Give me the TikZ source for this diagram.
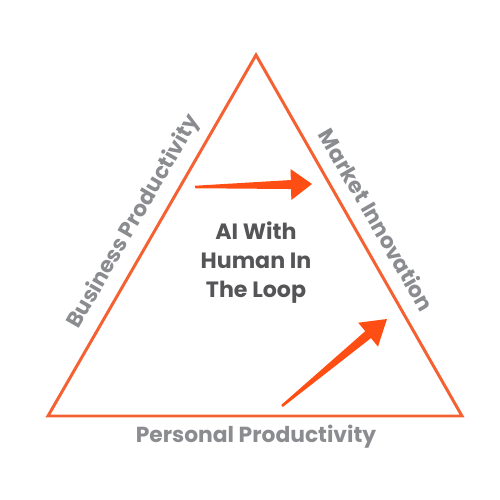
\documentclass[tikz,border=0pt]{standalone}
\usepackage{fontspec}
\setmainfont{Poppins}
\usepackage{tikz}
\usetikzlibrary{calc}
\definecolor{edgeorange}{RGB}{244,98,52}
\definecolor{arroworange}{RGB}{255,78,20}
\definecolor{labelgray}{RGB}{138,140,143}
\definecolor{textgray}{RGB}{85,85,88}

\tikzset{
  side/.style={edgeorange,line width=1.7pt,line join=miter},
  sidelabel/.style={text=labelgray,font=\fontsize{12.4}{14}\selectfont\bfseries},
  centerlabel/.style={text=textgray,align=center,font=\fontsize{12.6}{16.5}\selectfont\bfseries},
  fatarrow/.style={fill=arroworange}
}

% tapered arrow from #1 to #2
\newcommand{\taperarrow}[2]{
  \coordinate (hb) at ($(#1)!0.82!(#2)$);
  \fill[fatarrow] ($(#1)!0.025cm!-90:(#2)$) -- ($(hb)!0.09cm!-90:(#2)$)
    -- ($(hb)!0.31cm!-90:(#2)$) -- (#2) -- ($(hb)!0.31cm!90:(#2)$)
    -- ($(hb)!0.09cm!90:(#2)$) -- ($(#1)!0.025cm!90:(#2)$) -- cycle;
}

\begin{document}
\begin{tikzpicture}
      \useasboundingbox (0,0) rectangle (10,10);
      \coordinate (top) at (5.12,8.9);
      \coordinate (left) at (0.96,1.68);
      \coordinate (right) at (9.24,1.68);
      \draw[side] (top) -- (left) -- (right) -- cycle;

      \node[sidelabel,rotate=60] (business) at (2.68,5.56) {Business Productivity};
      \node[sidelabel,rotate=-60] (market) at (7.54,5.6) {Market Innovation};
      \node[sidelabel] (personal) at (5.12,1.26) {Personal Productivity};
      \node[centerlabel] (loop) at (5.12,4.74) {AI With\\Human In\\The Loop};

      \coordinate (tail1) at (3.9,6.26);
      \coordinate (tip1) at (6.24,6.32);
      \coordinate (tail2) at (5.64,1.88);
      \coordinate (tip2) at (7.74,3.62);
      \taperarrow{tail1}{tip1}
      \taperarrow{tail2}{tip2}
    \end{tikzpicture}
\end{document}
